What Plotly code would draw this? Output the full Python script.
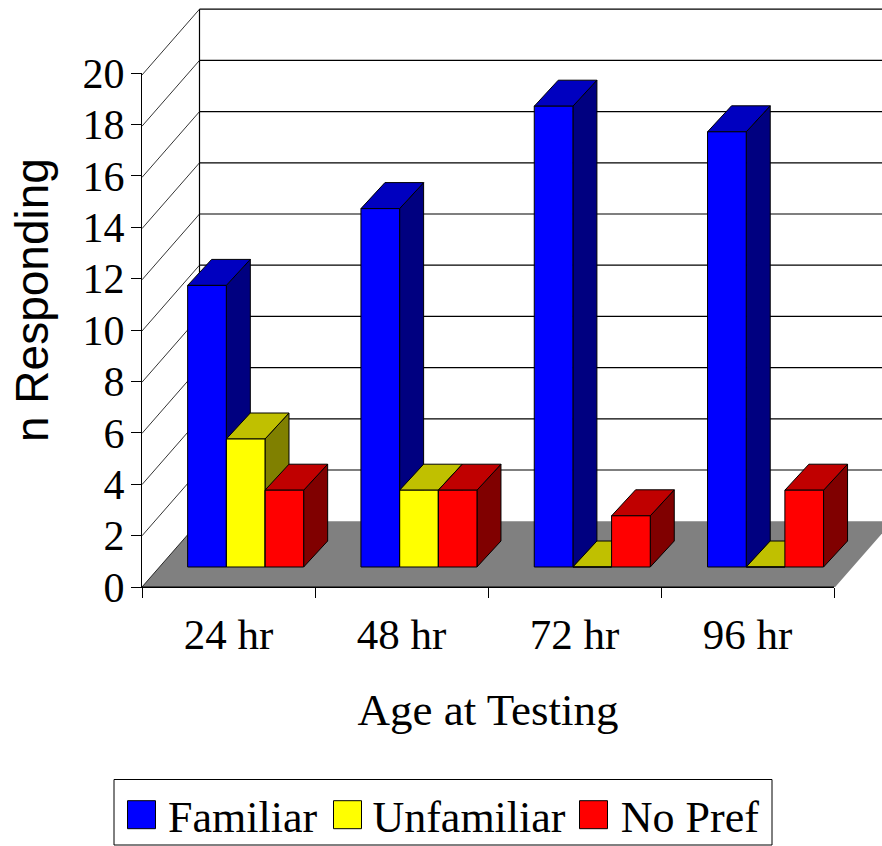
import plotly.graph_objects as go

# ---- data ----
CATEGORIES = ["24 hr", "48 hr", "72 hr", "96 hr"]
FAMILIAR = [11, 14, 18, 17]
UNFAMILIAR = [5, 3, 0, 0]
NO_PREF = [3, 3, 2, 3]
Y_TICKS = list(range(0, 21, 2))

SERIES = [
    ("Familiar", FAMILIAR, "#0000FF", "#000080", "#0000C0"),
    ("Unfamiliar", UNFAMILIAR, "#FFFF00", "#808000", "#C0C000"),
    ("No Pref", NO_PREF, "#FF0000", "#800000", "#C00000"),
]

# ---- layout, in page pixels ----
W, H = 882, 846
L, R, T, B = 142, 834, 73, 587       # the visible axes: x 0..4, y 0..20
N_CAT = len(CATEGORIES)
TOP = max(Y_TICKS)
PX_X = 173.3                         # scale of the 3D construction
PX_Y = 25.6


def ux(px):
    return px / PX_X


def uy(px):
    return px / PX_Y


# oblique projection offsets, in axis units
WALL_DX, WALL_DY = ux(57.5), uy(65.8)    # front plane to back wall
BAR_DX, BAR_DY = ux(17), uy(20)          # front plane to bar fronts
DEPTH_DX, DEPTH_DY = ux(24), uy(26)      # bar depth
BAR_W = ux(38.67)

FONT_SERIF = "Liberation Serif"
FONT_SANS = "Liberation Sans"
FS = 43


def bar_left(i, j):
    return i + 0.5 + BAR_DX + (j - 1.5) * BAR_W


def closed(polys):
    xs, ys = [], []
    for poly in polys:
        xs += [p[0] for p in poly] + [poly[0][0], None]
        ys += [p[1] for p in poly] + [poly[0][1], None]
    return xs, ys


def paper_x(px):
    return (px - L) / (W - L)


def paper_y(py):
    return (B - py) / B


fig = go.Figure()

# floor
fx, fy = closed([[(0, 0), (N_CAT, 0), (N_CAT + WALL_DX, WALL_DY), (WALL_DX, WALL_DY)]])
fig.add_trace(go.Scatter(x=fx, y=fy, mode="lines", fill="toself", fillcolor="#808080",
                         line=dict(width=0), showlegend=False, hoverinfo="skip"))

# wall lines
hx, hy, dx, dy = [WALL_DX, WALL_DX, None], [WALL_DY, TOP + WALL_DY, None], [], []
for v in Y_TICKS:
    dx += [0, WALL_DX, None]
    dy += [v, v + WALL_DY, None]
    if v > 0:
        hx += [WALL_DX, N_CAT + WALL_DX, None]
        hy += [v + WALL_DY, v + WALL_DY, None]
fig.add_trace(go.Scatter(x=hx, y=hy, mode="lines", line=dict(color="#000000", width=1.2),
                         showlegend=False, hoverinfo="skip"))
fig.add_trace(go.Scatter(x=dx, y=dy, mode="lines", line=dict(color="#000000", width=0.8),
                         showlegend=False, hoverinfo="skip"))

# side and top faces of the bars
for j, (name, vals, front, side, top) in enumerate(SERIES):
    side_polys, top_polys = [], []
    for i, v in enumerate(vals):
        x0 = bar_left(i, j)
        x1 = x0 + BAR_W
        y0 = BAR_DY
        y1 = BAR_DY + v
        side_polys.append([(x1, y0), (x1 + DEPTH_DX, y0 + DEPTH_DY),
                           (x1 + DEPTH_DX, y1 + DEPTH_DY), (x1, y1)])
        top_polys.append([(x0, y1), (x1, y1), (x1 + DEPTH_DX, y1 + DEPTH_DY),
                          (x0 + DEPTH_DX, y1 + DEPTH_DY)])
    for polys, col in ((side_polys, side), (top_polys, top)):
        px, py = closed(polys)
        fig.add_trace(go.Scatter(x=px, y=py, mode="lines", fill="toself", fillcolor=col,
                                 line=dict(color="#000000", width=1), showlegend=False,
                                 hoverinfo="skip"))

# front faces on an overlaid pair of axes, so that they cover the side faces
for j, (name, vals, front, side, top) in enumerate(SERIES):
    fig.add_trace(go.Bar(name=name, x=[i + 0.5 + BAR_DX for i in range(N_CAT)], y=vals,
                         base=BAR_DY, marker=dict(color=front, line=dict(width=0)),
                         xaxis="x2", yaxis="y2"))
for j, (name, vals, front, side, top) in enumerate(SERIES):
    ox, oy = closed([[(bar_left(i, j), BAR_DY), (bar_left(i, j) + BAR_W, BAR_DY),
                      (bar_left(i, j) + BAR_W, BAR_DY + v), (bar_left(i, j), BAR_DY + v)]
                     for i, v in enumerate(vals)])
    fig.add_trace(go.Scatter(x=ox, y=oy, mode="lines", line=dict(color="#000000", width=1),
                             showlegend=False, hoverinfo="skip", xaxis="x2", yaxis="y2"))

# front baseline, on the visible axes
fig.add_trace(go.Scatter(x=[0, N_CAT], y=[0, 0], mode="lines", line=dict(color="#000000", width=1),
                         showlegend=False, hoverinfo="skip", xaxis="x3", yaxis="y3"))

# legend box and its large keys, behind the legend's own keys and text
SWATCH_LEFT = [127.5, 333.5, 579.5]
SWATCH_TOP, SWATCH_SIZE = 800.7, 28
BOX_L, BOX_R, BOX_T, BOX_B = 114, 772, 779.5, 845

shapes = [dict(type="rect", xref="paper", yref="paper", x0=paper_x(BOX_L), x1=paper_x(BOX_R),
               y0=paper_y(BOX_B), y1=paper_y(BOX_T), line=dict(color="#000000", width=1))]
for sx, (name, vals, front, side, top) in zip(SWATCH_LEFT, SERIES):
    shapes.append(dict(type="rect", xref="paper", yref="paper",
                       x0=paper_x(sx), x1=paper_x(sx + SWATCH_SIZE),
                       y0=paper_y(SWATCH_TOP + SWATCH_SIZE), y1=paper_y(SWATCH_TOP),
                       fillcolor=front, line=dict(color="#000000", width=1)))

hidden_x = dict(range=[0, ux(W - L)], visible=False)
hidden_y = dict(range=[0, uy(B)], visible=False)

fig.update_layout(
    width=W, height=H,
    margin=dict(l=L, r=0, t=0, b=H - B, pad=0, autoexpand=False),
    paper_bgcolor="#FFFFFF", plot_bgcolor="rgba(0,0,0,0)",
    barmode="group", bargap=1 - 3 * BAR_W, bargroupgap=0,
    font=dict(family=FONT_SERIF, size=FS, color="#000000"),
    # the 3D construction spreads past the axes, so it has wider hidden axes
    xaxis=hidden_x,
    yaxis=hidden_y,
    xaxis2=dict(overlaying="x", **hidden_x),
    yaxis2=dict(overlaying="y", **hidden_y),
    # the visible axes
    xaxis3=dict(domain=[0, paper_x(R)], anchor="y3", range=[0, N_CAT], tickmode="array",
                tickvals=[i + 0.5 for i in range(N_CAT)], ticktext=CATEGORIES, ticks="",
                ticklabelstandoff=9, showgrid=False, zeroline=False, showline=True,
                linecolor="#000000", linewidth=1,
                minor=dict(tickmode="array", tickvals=list(range(N_CAT + 1)), ticks="outside",
                           ticklen=10, tickcolor="#000000", tickwidth=1, showgrid=False),
                title=dict(text="Age at Testing", standoff=36, font=dict(size=45))),
    yaxis3=dict(domain=[0, paper_y(T)], anchor="x3", range=[0, TOP], tickmode="array",
                tickvals=Y_TICKS, ticks="outside", ticklen=10, tickcolor="#000000", tickwidth=1,
                tickfont=dict(size=42), ticklabelstandoff=-2, showgrid=False, zeroline=False,
                showline=True, linecolor="#000000", linewidth=1),
    legend=dict(orientation="h", x=paper_x(118), y=paper_y(779.5), xanchor="left", yanchor="top",
                bgcolor="rgba(0,0,0,0)", borderwidth=0, itemwidth=40, font=dict(size=44),
                traceorder="normal"),
    shapes=shapes,
    annotations=[dict(text="n Responding", xref="paper", yref="paper", x=paper_x(35),
                      y=paper_y(300), xanchor="center", yanchor="middle", xshift=-3,
                      showarrow=False, textangle=-90, font=dict(family=FONT_SANS, size=46))],
)

fig.write_html("out.html", post_script="document.body.style.margin='0';",
               config={"displayModeBar": False})
